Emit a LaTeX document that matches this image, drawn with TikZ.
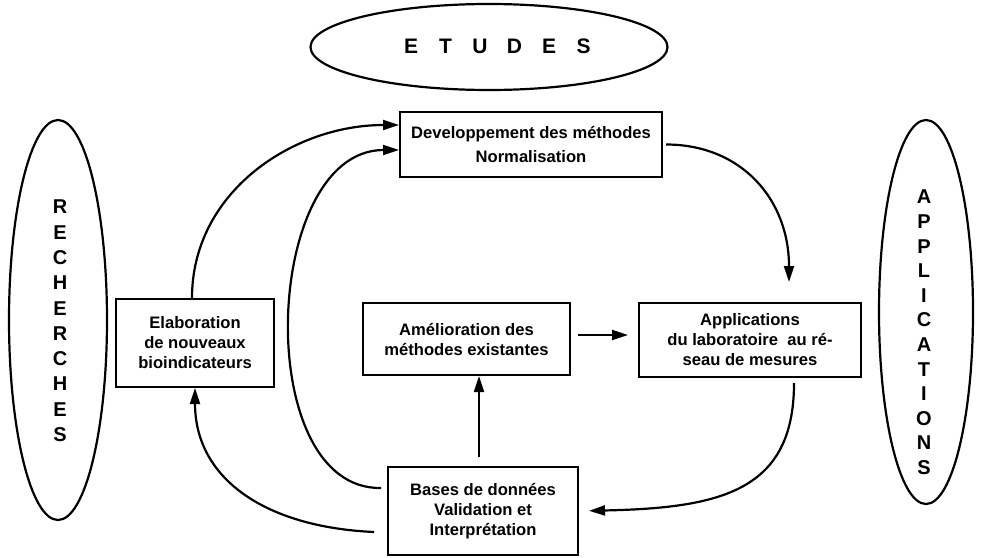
\documentclass[tikz,border=0pt]{standalone}
\usepackage{fontspec}
\setmainfont{Liberation Sans}
\usetikzlibrary{arrows.meta,shapes.geometric}
\newcommand{\boxfont}{\fontsize{16.6}{20}\selectfont\bfseries}
\newcommand{\ovalfont}{\fontsize{20}{22}\selectfont\bfseries}
\newcommand{\titlefont}{\fontsize{21}{24}\selectfont\bfseries}

\begin{document}
\begin{tikzpicture}[x=1pt, y=-1pt, line width=2.2pt,
    box/.style={draw, line width=2pt, align=center, font=\boxfont, inner sep=0pt},
    oval/.style={draw, ellipse, inner sep=0pt},
    flow/.style={-{Triangle[length=16pt,width=10pt]}}]
    \useasboundingbox (0,0) rectangle (982,557);

    % Ellipsen.
    \node[oval, minimum width=357pt, minimum height=86pt] (etudes) at (489,47) {};
    \node[oval, minimum width=98pt, minimum height=400pt] (rech) at (58,320) {};
    \node[oval, minimum width=94pt, minimum height=384pt] (appl) at (926,312) {};
    \foreach \l [count=\i from 0] in {E,T,U,D,E,S}
    {
        \node[font=\titlefont] (etu\i) at (411+34.5*\i,46) {\l};
    }
    \foreach \l [count=\i from 0] in {R,E,C,H,E,R,C,H,E,S}
    {
        \node[font=\ovalfont] (rech\i) at (60,207+25.3*\i) {\l};
    }
    \foreach \l [count=\i from 0] in {A,P,P,L,I,C,A,T,I,O,N,S}
    {
        \node[font=\ovalfont] (appl\i) at (924,197+24.6*\i) {\l};
    }

    % Kaesten.
    \node[box, minimum width=262pt, minimum height=65pt] (dev) at (531,144.5) {Developpement des méthodes\\[4pt] Normalisation};
    \node[box, minimum width=158pt, minimum height=88pt] (elab) at (195,343) {Elaboration\\de nouveaux\\bioindicateurs};
    \node[box, minimum width=207pt, minimum height=72pt] (amel) at (466.5,339) {Amélioration des\\méthodes existantes};
    \node[box, minimum width=222pt, minimum height=74pt] (apps) at (750,340) {Applications\\du laboratoire\ \ au ré-\\seau de mesures};
    \node[box, minimum width=190pt, minimum height=88pt] (bases) at (483,511) {Bases de données\\Validation et\\Interprétation};

    % Pfeile.
    \draw[flow] ([xshift=-3pt]elab.north) .. controls +(0,-106) and +(-106,0) .. ([yshift=19.5pt]dev.west);
    \draw[flow] ([xshift=-6pt,yshift=23pt]bases.west) .. controls +(-130,2) and +(-137,0) .. ([yshift=-5.5pt]dev.west);
    \draw[flow] ([xshift=-13pt,yshift=-21pt]bases.west) .. controls +(-110,-5) and +(0,90) .. (elab.south);
    \draw[flow, shorten <=9pt] ([xshift=-4pt]bases.north) -- ([xshift=-4pt]bases.north |- amel.south);
    \draw[flow, shorten <=7pt, shorten >=10pt] ([yshift=4pt]amel.east) -- ([yshift=4pt]amel.east -| apps.west);
    \draw[flow, shorten >=20pt] ([xshift=3pt]dev.east) .. controls +(75,0) and +(0,-103) .. ([xshift=39pt]apps.north);
    \draw[flow, shorten <=5pt, shorten >=10pt] ([xshift=44pt]apps.south) .. controls +(0,113) and +(142,-3) .. (bases.east);
\end{tikzpicture}
\end{document}
